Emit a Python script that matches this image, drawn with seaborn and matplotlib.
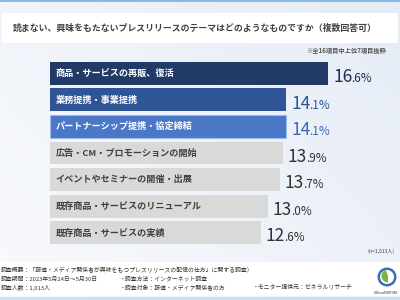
import numpy as np
import matplotlib
matplotlib.use("Agg")
import matplotlib.pyplot as plt
import seaborn as sns
from matplotlib.patches import Rectangle, Circle, Wedge

categories = [
    "商品・サービスの再販、復活",
    "業務提携・事業提携",
    "パートナーシップ提携・協定締結",
    "広告・CM・プロモーションの開始",
    "イベントやセミナーの開催・出展",
    "既存商品・サービスのリニューアル",
    "既存商品・サービスの実績",
]
values = [16.6, 14.1, 14.1, 13.9, 13.7, 13.0, 12.6]
bar_colors = ["#223a66", "#2f5597", "#4a78c6", "#d9d9d9", "#d9d9d9", "#d9d9d9", "#d9d9d9"]
label_colors = ["white", "white", "white", "#404040", "#404040", "#404040", "#404040"]
value_colors = ["#1f2d4d", "#2f5597", "#3d68b8", "#333333", "#333333", "#333333", "#333333"]

title = "読まない、興味をもたないプレスリリースのテーマはどのようなものですか（複数回答可）"
note = "※全16項目中上位7項目抜粋"
n_note = "（n=1,013人）"
footer = [
    ("調査概要：「報道・メディア関係者が興味をもつプレスリリースの配信の仕方」に関する調査）", None, None),
    ("調査期間：2023年5月24日～5月30日", "・調査方法：インターネット調査", None),
    ("調査人数：1,013人", "・調査対象：報道・メディア関係者の方", "・モニター提供元：ゼネラルリサーチ"),
]

sns.set_theme(style="white")
plt.rcParams['font.family'] = ['Noto Sans CJK JP', 'DejaVu Sans']

W, H = 400, 300
fig = plt.figure(figsize=(4, 3), dpi=100)

# background gradient
bg = fig.add_axes([0, 0, 1, 1], zorder=-10)
grad = np.linspace(0, 1, 256)
gx, gy = np.meshgrid(grad, grad)
g = (gx * 0.6 + (1 - gy) * 0.4)
c0 = np.array([0.975, 0.98, 0.99])
c1 = np.array([0.90, 0.925, 0.965])
img = c0[None, None, :] * (1 - g[..., None]) + c1[None, None, :] * g[..., None]
bg.imshow(img, extent=[0, W, 0, H], aspect='auto', origin='lower')
bg.set_xlim(0, W)
bg.set_ylim(H, 0)
bg.axis('off')
bg.add_patch(Rectangle((2, 13), 396, 30, facecolor='white', edgecolor='none'))
bg.add_patch(Rectangle((0, 262), 400, 34, facecolor='white', edgecolor='none'))
bg.add_patch(Rectangle((0, 0), 400, 1.6, facecolor='#8db8e6', edgecolor='none'))
bg.add_patch(Rectangle((0, 296.5), 400, 3.5, facecolor='#cfdff2', edgecolor='none'))

bg.text(13, 28.5, title, fontsize=6.4, color='#404040', va='center', ha='left', fontweight='bold')
bg.text(386, 50, note, fontsize=4.5, color='#555555', va='center', ha='right', fontweight='bold')
bg.text(398, 251.5, n_note, fontsize=3.6, color='#444444', va='center', ha='right')

fy = [270.5, 279, 287.5]
for (a, b, c), y in zip(footer, fy):
    bg.text(1, y, a, fontsize=4.2, color='#333333', va='center', ha='left')
    if b:
        bg.text(120, y, b, fontsize=4.2, color='#333333', va='center', ha='left')
    if c:
        bg.text(253, y, c, fontsize=4.2, color='#333333', va='center', ha='left')

# logo
bg.add_patch(Circle((387, 277), 9.5, facecolor='#3a6fb6', edgecolor='none'))
bg.add_patch(Circle((387, 277), 7.0, facecolor='white', edgecolor='none'))
bg.add_patch(Wedge((388, 276), 6.5, 90, 250, facecolor='#7cb342', edgecolor='none'))
bg.text(386, 293, "LINKandPARTNER", fontsize=2.1, color='#333333', ha='center', va='center')

# bar axes
left_px, right_px, top_px, bot_px = 50, 380, 60, 246
ax = fig.add_axes([left_px / W, 1 - bot_px / H, (right_px - left_px) / W, (bot_px - top_px) / H])
ax.set_facecolor('none')
scale = 16.77  # px per percent
sns.barplot(x=values, y=categories, hue=categories, palette=bar_colors, legend=False,
            orient='h', width=0.86, ax=ax, saturation=1, edgecolor='none')
ax.patches[2].set_edgecolor('#9dbbe8')
ax.patches[2].set_linewidth(0.8)
ax.set_xlim(0, (right_px - left_px) / scale)
ax.set_ylim(6.5, -0.5)
ax.axis('off')

for i, (cat, v) in enumerate(zip(categories, values)):
    ax.text(0.33, i, cat, fontsize=6.6, color=label_colors[i], va='center', ha='left', fontweight='bold')

fig.canvas.draw()
renderer = fig.canvas.get_renderer()
inv = ax.transData.inverted()
for i, v in enumerate(values):
    s = f"{v:.1f}"
    whole, dec = s.split(".")
    t = ax.text(v + 0.28, i + 0.33, whole, fontsize=12.5, color=value_colors[i], va='baseline', ha='left')
    bb = t.get_window_extent(renderer=renderer)
    x_end = inv.transform((bb.x1, bb.y0))[0]
    ax.text(x_end - 0.05, i + 0.33, "." + dec + "%", fontsize=8.5, color=value_colors[i], va='baseline', ha='left')

fig.savefig("out.png", dpi=100)
